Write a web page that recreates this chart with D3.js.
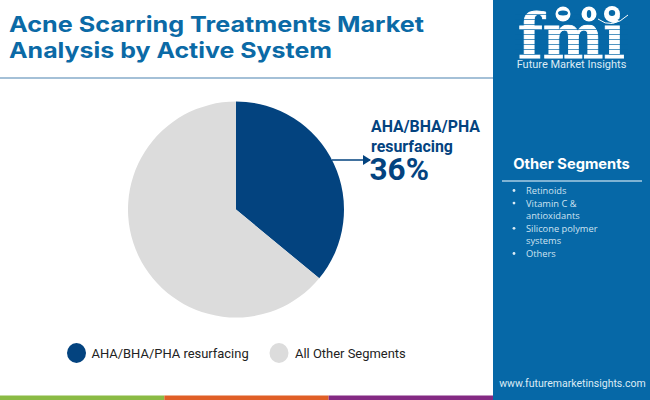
<!DOCTYPE html>
<html>
<head>
<meta charset="utf-8">
<script src="https://cdn.jsdelivr.net/npm/d3@7/dist/d3.min.js"></script>
<style>
html, body { margin: 0; padding: 0; background: #fff; }
svg { display: block; font-family: Roboto, sans-serif; }
</style>
</head>
<body>
<div id="chart"></div>
<script>
const categories = ['AHA/BHA/PHA resurfacing', 'All Other Segments'];
const shares = [36, 64];
const colors = ['#03437f', '#dcdcdc'];
const titleLines = ['Acne Scarring Treatments Market', 'Analysis by Active System'];
const calloutLines = ['AHA/BHA/PHA', 'resurfacing'];
const calloutValue = '36%';
const otherSegments = [['Retinoids'], ['Vitamin C &', 'antioxidants'], ['Silicone polymer', 'systems'], ['Others']];
const stripeColors = ['#8bbb45', '#e05f26', '#842a83'];

const width = 650;
const height = 400;
const panelX = 493;
const panelColor = '#0668a7';
const titleWidths = [415, 323];

const svg = d3.select('#chart')
    .append('svg')
    .attr('width', width)
    .attr('height', height)
    .attr('viewBox', [0, 0, width, height]);

// title
svg.append('g')
    .selectAll('text')
    .data(titleLines)
    .join('text')
    .attr('x', 9)
    .attr('y', (d, i) => 32 + i * 25.7)
    .attr('font-family', 'Inter, sans-serif')
    .attr('font-size', 21.6)
    .attr('font-weight', 700)
    .attr('fill', '#0b6aa6')
    .attr('textLength', (d, i) => titleWidths[i])
    .attr('lengthAdjust', 'spacingAndGlyphs')
    .text(d => d);

svg.append('line')
    .attr('x1', 0).attr('x2', panelX)
    .attr('y1', 78).attr('y2', 78)
    .attr('stroke', '#86abca')
    .attr('stroke-width', 1.5);

// side panel
svg.append('rect')
    .attr('x', panelX).attr('y', 0)
    .attr('width', width - panelX).attr('height', height)
    .attr('fill', panelColor);

// logo: striped letters, three globes and the swoosh
const logo = svg.append('g').attr('fill', '#fff');
logo.append('text')
    .attr('x', 518).attr('y', 58)
    .attr('font-family', '"DejaVu Serif", serif')
    .attr('font-weight', 700)
    .attr('font-size', 62)
    .attr('stroke', '#fff')
    .attr('stroke-width', 0.8)
    .attr('textLength', 107)
    .attr('lengthAdjust', 'spacingAndGlyphs')
    .text('fmi');

logo.append('g')
    .selectAll('rect')
    .data(d3.range(14, 58, 5))
    .join('rect')
    .attr('x', 515).attr('width', 113)
    .attr('y', d => d).attr('height', 0.7)
    .attr('fill', panelColor);

logo.append('path')
    .attr('d', 'M598,19Q612,30 628,15')
    .attr('fill', 'none')
    .attr('stroke', '#fff')
    .attr('stroke-width', 1);

const globes = logo.append('g')
    .selectAll('g')
    .data([[563, 14, 7.5], [589, 14, 7.5], [612, 14, 8]])
    .join('g')
    .attr('transform', d => `translate(${d[0]},${d[1]})`);
globes.append('circle').attr('r', d => d[2]);
globes.append('ellipse')
    .attr('rx', (d, i) => [5, 2.2, 3.2][i])
    .attr('ry', (d, i) => [2.5, 4, 3][i])
    .attr('cy', (d, i) => [-1, 0, -1][i])
    .attr('fill', panelColor);

logo.append('text')
    .attr('x', 571.5).attr('y', 67.5)
    .attr('text-anchor', 'middle')
    .attr('font-size', 11)
    .attr('fill', '#dcebf5')
    .text('Future Market Insights');

// pie
const pieCenter = [236, 209.5];
const radius = 108;
const pie = d3.pie().sort(null).value(d => d);
const arc = d3.arc().innerRadius(0).outerRadius(radius);

svg.append('g')
    .attr('transform', `translate(${pieCenter})`)
    .selectAll('path')
    .data(pie(shares))
    .join('path')
    .attr('d', arc)
    .attr('fill', (d, i) => colors[i]);

// callout
svg.append('defs').append('marker')
    .attr('id', 'arrow')
    .attr('viewBox', '0 0 8 10')
    .attr('refX', 7).attr('refY', 5)
    .attr('markerWidth', 8).attr('markerHeight', 10)
    .attr('markerUnits', 'userSpaceOnUse')
    .attr('orient', 'auto')
    .append('path')
    .attr('d', 'M0,0L8,5L0,10Z')
    .attr('fill', colors[0]);

svg.append('line')
    .attr('x1', 332).attr('x2', 370)
    .attr('y1', 160).attr('y2', 160)
    .attr('stroke', colors[0])
    .attr('stroke-width', 1.5)
    .attr('marker-end', 'url(#arrow)');

svg.append('g')
    .selectAll('text')
    .data(calloutLines)
    .join('text')
    .attr('x', 371)
    .attr('y', (d, i) => 131.5 + i * 20)
    .attr('font-size', 15.9)
    .attr('font-weight', 700)
    .attr('fill', colors[0])
    .text(d => d);

svg.append('text')
    .attr('x', 369.5).attr('y', 180)
    .attr('font-size', 31.5)
    .attr('font-weight', 700)
    .attr('fill', colors[0])
    .text(calloutValue);

// legend
const legendX = [76.5, 279];
const legend = svg.append('g')
    .selectAll('g')
    .data(categories)
    .join('g')
    .attr('transform', (d, i) => `translate(${legendX[i]},353)`);

legend.append('ellipse')
    .attr('rx', 9.5).attr('ry', 10)
    .attr('fill', (d, i) => colors[i]);

legend.append('text')
    .attr('x', (d, i) => [15, 16][i]).attr('y', 4.5)
    .attr('font-size', 12.95)
    .attr('fill', '#222')
    .text(d => d);

// other segments
svg.append('text')
    .attr('x', 571.5).attr('y', 169)
    .attr('text-anchor', 'middle')
    .attr('font-family', 'Inter, sans-serif')
    .attr('font-size', 14.7)
    .attr('font-weight', 700)
    .attr('fill', '#fff')
    .text('Other Segments');

svg.append('line')
    .attr('x1', 502).attr('x2', 642)
    .attr('y1', 181).attr('y2', 181)
    .attr('stroke', '#a9cce3')
    .attr('stroke-width', 1.5);

const lineHeight = 12.6;
let row = 0;
const rows = otherSegments.map(lines => {
    const start = row;
    row += lines.length;
    return { lines, start };
});

const items = svg.append('g')
    .selectAll('g')
    .data(rows)
    .join('g')
    .attr('transform', d => `translate(0,${194 + d.start * lineHeight})`);

items.append('circle')
    .attr('cx', 514).attr('cy', -3.5).attr('r', 1.4)
    .attr('fill', '#dcebf5');

items.selectAll('text')
    .data(d => d.lines)
    .join('text')
    .attr('x', 526)
    .attr('y', (d, i) => i * lineHeight)
    .attr('font-size', 9.3)
    .attr('font-family', '"Open Sans", sans-serif')
    .attr('fill', '#cfe3f1')
    .text(d => d);

svg.append('text')
    .attr('x', 572.5).attr('y', 387)
    .attr('text-anchor', 'middle')
    .attr('font-size', 10.5)
    .attr('fill', '#dcebf5')
    .text('www.futuremarketinsights.com');

// bottom stripe
const stripe = d3.scaleBand()
    .domain(d3.range(stripeColors.length))
    .range([0, panelX]);

svg.append('g')
    .selectAll('rect')
    .data(stripeColors)
    .join('rect')
    .attr('x', (d, i) => stripe(i))
    .attr('y', 395.5)
    .attr('width', stripe.bandwidth())
    .attr('height', 4.5)
    .attr('fill', d => d);
</script>
</body>
</html>
